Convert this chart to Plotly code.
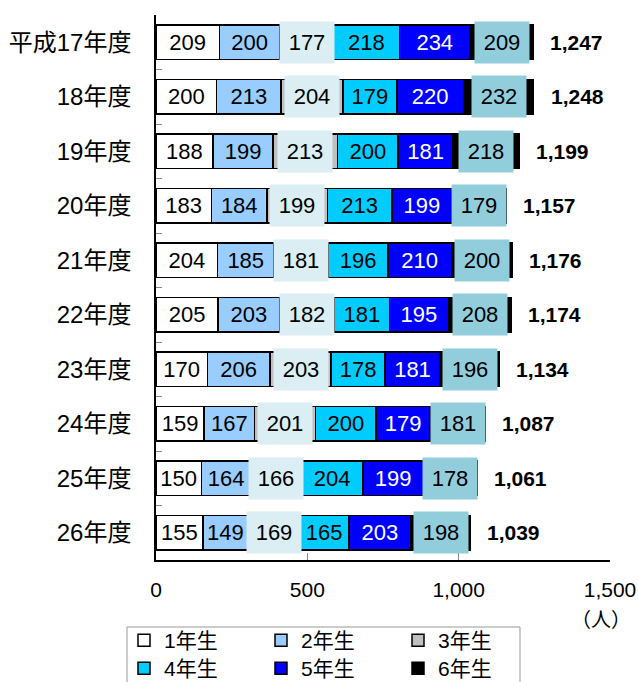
import plotly.graph_objects as go

categories = ["平成17年度", "18年度", "19年度", "20年度", "21年度",
              "22年度", "23年度", "24年度", "25年度", "26年度"]
grade1 = [209, 200, 188, 183, 204, 205, 170, 159, 150, 155]
grade2 = [200, 213, 199, 184, 185, 203, 206, 167, 164, 149]
grade3 = [177, 204, 213, 199, 181, 182, 203, 201, 166, 169]
grade4 = [218, 179, 200, 213, 196, 181, 178, 200, 204, 165]
grade5 = [234, 220, 181, 199, 210, 195, 181, 179, 199, 203]
grade6 = [209, 232, 218, 179, 200, 208, 196, 181, 178, 198]
series_names = ["1年生", "2年生", "3年生", "4年生", "5年生", "6年生"]
x_ticks = [0, 500, 1000, 1500]

series = [grade1, grade2, grade3, grade4, grade5, grade6]
colors = ["#FFFFFF", "#99CCFF", "#C0C0C0", "#00CCFF", "#0000FF", "#000000"]
text_colors = ["black", "black", "black", "black", "white", "black"]
boxed = {2: "#DAEEF3", 5: "#92CDDC"}

NUM_FONT = "Liberation Sans, Arial, Noto Sans CJK JP"
JP_FONT = "Liberation Sans, Noto Sans CJK JP"

L, R, T, B = 156, 28, 15, 122
W, H = 638, 682
PW, PH = W - L - R, H - T - B


def px_x(px):
    return (px - L) / PW


def px_y(py):
    return (T + PH - py) / PH


fig = go.Figure()
for i, (name, vals) in enumerate(zip(series_names, series)):
    show_text = i not in boxed
    fig.add_trace(go.Bar(
        y=categories, x=vals, name=name, orientation="h",
        marker=dict(color=colors[i], line=dict(color="black", width=1.5)),
        text=[str(v) for v in vals] if show_text else None,
        textposition="inside" if show_text else "none",
        insidetextanchor="middle",
        textangle=0,
        constraintext="none",
        textfont=dict(family=NUM_FONT, size=22, color=text_colors[i]),
        hoverinfo="skip",
        legend="legend" if i < 3 else "legend2",
    ))

annotations = []
totals = [sum(s[k] for s in series) for k in range(len(categories))]
for k, cat in enumerate(categories):
    cum = 0
    for i, vals in enumerate(series):
        v = vals[k]
        if i in boxed:
            annotations.append(dict(
                x=cum + v / 2, y=cat, xref="x", yref="y",
                text=str(v), showarrow=False,
                bgcolor=boxed[i], width=54, height=41, borderpad=0,
                font=dict(family=NUM_FONT, size=22, color="black"),
                align="center", valign="middle",
            ))
        cum += v
    annotations.append(dict(
        x=totals[k], y=cat, xref="x", yref="y",
        text="<b>{:,}</b>".format(totals[k]), showarrow=False,
        xanchor="left", xshift=15,
        font=dict(family=NUM_FONT, size=21, color="black"),
    ))

annotations.append(dict(
    x=px_x(601), y=px_y(620), xref="paper", yref="paper",
    xanchor="center", yanchor="middle",
    text="（人）", showarrow=False,
    font=dict(family=JP_FONT, size=20, color="black"),
))

legend_common = dict(
    orientation="h", x=px_x(124), xanchor="left", yanchor="top",
    borderwidth=0, bgcolor="rgba(0,0,0,0)",
    entrywidth=92, entrywidthmode="pixels",
    font=dict(family=JP_FONT, size=21), traceorder="normal",
    itemwidth=30,
)

fig.update_layout(
    width=W, height=H,
    margin=dict(l=L, r=R, t=T, b=B, autoexpand=False),
    barmode="stack", bargap=0.36,
    plot_bgcolor="white", paper_bgcolor="white",
    font=dict(family=JP_FONT, size=20, color="black"),
    xaxis=dict(
        range=[0, 1500], tickvals=x_ticks, tickformat=",",
        ticks="inside", ticklen=7, tickcolor="#888888", tickwidth=1,
        showline=True, linecolor="black", linewidth=1.5,
        showgrid=False, zeroline=False,
        tickfont=dict(family=NUM_FONT, size=21),
        ticklabelstandoff=10,
    ),
    yaxis=dict(
        categoryorder="array", categoryarray=categories, autorange="reversed",
        ticks="inside", tickson="boundaries", ticklen=6, tickcolor="#888888",
        showline=True, linecolor="black", linewidth=1.5,
        showgrid=False, zeroline=False,
        tickfont=dict(family=JP_FONT, size=24),
        ticklabelstandoff=18,
    ),
    legend=dict(legend_common, y=px_y(620)),
    legend2=dict(legend_common, y=px_y(648)),
    shapes=[dict(
        type="rect", xref="paper", yref="paper",
        x0=px_x(127), x1=px_x(520), y0=px_y(627), y1=px_y(700),
        line=dict(color="#999999", width=1), fillcolor="rgba(0,0,0,0)",
        layer="below",
    )],
    annotations=annotations,
)

fig.write_html("out.html", config={"displayModeBar": False},
               post_script="document.body.style.margin='0';")
